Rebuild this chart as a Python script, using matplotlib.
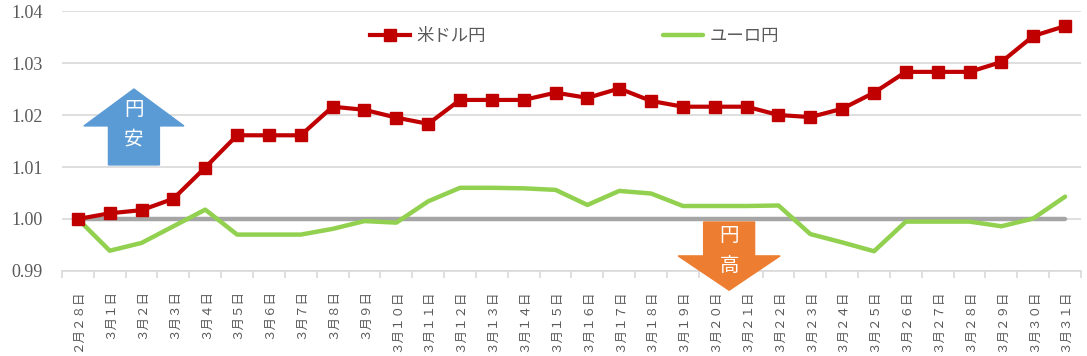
import matplotlib
matplotlib.use("Agg")
import matplotlib.pyplot as plt
from matplotlib.patches import Polygon
from matplotlib.ticker import FixedLocator

plt.rcParams['font.family'] = ['Noto Sans CJK JP', 'DejaVu Sans']

dates = ["２月２８日"] + [f"３月{str(d).translate(str.maketrans('0123456789', '０１２３４５６７８９'))}日"
                         for d in range(1, 32)]

usd_jpy = [1.0000, 1.0011, 1.0017, 1.0039, 1.0099, 1.0161, 1.0161, 1.0161,
           1.0216, 1.0210, 1.0195, 1.0183, 1.0229, 1.0229, 1.0229, 1.0243,
           1.0233, 1.0251, 1.0227, 1.0216, 1.0216, 1.0216, 1.0200, 1.0196,
           1.0212, 1.0243, 1.0283, 1.0283, 1.0283, 1.0302, 1.0352, 1.0371]

eur_jpy = [1.0000, 0.9939, 0.9954, 0.9986, 1.0018, 0.9970, 0.9970, 0.9970,
           0.9981, 0.9996, 0.9993, 1.0034, 1.0060, 1.0060, 1.0059, 1.0056,
           1.0027, 1.0054, 1.0049, 1.0025, 1.0025, 1.0025, 1.0026, 0.9971,
           0.9955, 0.9938, 0.9995, 0.9995, 0.9995, 0.9986, 1.0001, 1.0043]

baseline = [1.0] * len(dates)

yticks = [0.99, 1.00, 1.01, 1.02, 1.03, 1.04]

fig = plt.figure(figsize=(10.87, 3.56), dpi=100)
ax = fig.add_axes([0.057, 0.2388, 0.9375, 0.7302])

x = list(range(len(dates)))

ax.plot(x, baseline, color="#A5A5A5", lw=3.2, solid_capstyle="round", zorder=2)
ax.plot(x, usd_jpy, color="#C00000", lw=3, marker="s", markersize=9,
        label="米ドル円", zorder=4)
ax.plot(x, eur_jpy, color="#92D050", lw=3.2, solid_capstyle="round",
        label="ユーロ円", zorder=3)

ax.set_xlim(-0.5, len(dates) - 0.5)
ax.set_ylim(0.99, 1.04)
ax.set_yticks(yticks)
ax.set_yticklabels([f"{v:.2f}" for v in yticks], family="Liberation Serif",
                   fontsize=13, color="#595959")
ax.yaxis.grid(True, color="#D9D9D9", lw=1.2)
ax.set_axisbelow(True)
ax.tick_params(axis="y", length=0, pad=14)

ax.set_xticks(x)
ax.set_xticklabels(dates, rotation=90, fontsize=9, color="#595959",
                   va="top", ha="center")
ax.xaxis.set_minor_locator(FixedLocator([i - 0.5 for i in range(len(dates) + 1)]))
ax.tick_params(axis="x", which="major", length=0, pad=13)
ax.tick_params(axis="x", which="minor", length=5, color="#D9D9D9", width=1.2)

for s in ["top", "right", "left"]:
    ax.spines[s].set_visible(False)
ax.spines["bottom"].set_color("#D9D9D9")
ax.spines["bottom"].set_linewidth(1.2)

leg = ax.legend(loc="upper center", bbox_to_anchor=(0.503, 1.0), ncol=2,
                frameon=False, fontsize=12.5, columnspacing=10.2, handlelength=2.3,
                handletextpad=0.4)
for t in leg.get_texts():
    t.set_color("#595959")

# 円安 arrow (up)
cx, hw, sw = 1.76, 1.57, 0.8
up = Polygon([(cx - sw, 1.0104), (cx - sw, 1.0179), (cx - hw, 1.0179),
              (cx, 1.0250), (cx + hw, 1.0179), (cx + sw, 1.0179),
              (cx + sw, 1.0104)], closed=True, color="#5B9BD5", zorder=5)
ax.add_patch(up)
ax.text(cx, 1.0210, "円", color="white", fontsize=14, ha="center", va="center", zorder=6)
ax.text(cx, 1.0153, "安", color="white", fontsize=14, ha="center", va="center", zorder=6)

# 円高 arrow (down)
cx2 = 20.45
down = Polygon([(cx2 - sw, 0.99942), (cx2 - sw, 0.9929), (cx2 - 1.6, 0.9929),
                (cx2, 0.9863), (cx2 + 1.6, 0.9929), (cx2 + sw, 0.9929),
                (cx2 + sw, 0.99942)], closed=True, color="#ED7D31", zorder=5,
               clip_on=False)
ax.add_patch(down)
ax.text(cx2, 0.9968, "円", color="white", fontsize=14, ha="center", va="center", zorder=6)
ax.text(cx2, 0.9910, "高", color="white", fontsize=14, ha="center", va="center", zorder=6)

fig.savefig("out.png", dpi=100)
